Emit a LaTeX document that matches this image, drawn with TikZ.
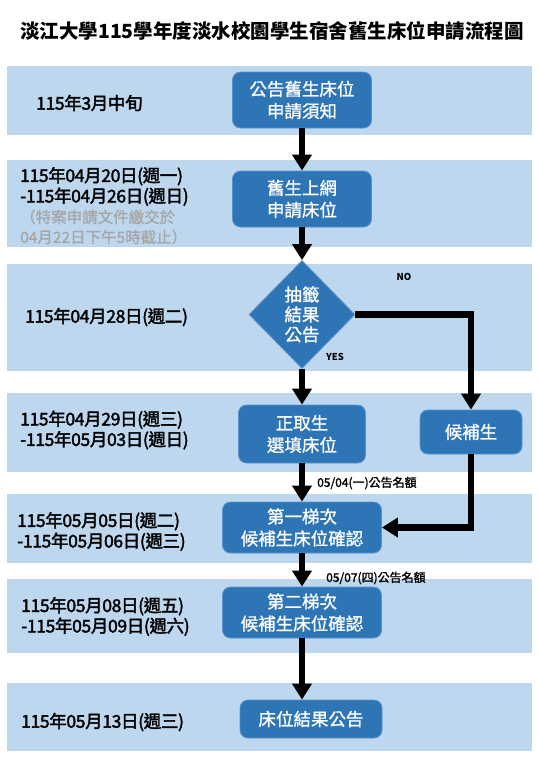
\documentclass[tikz,border=0pt]{standalone}
\usepackage{fontspec}
\setmainfont{Noto Sans CJK TC}
\newfontfamily\medf[FakeBold=2.2,LetterSpace=-2]{Noto Sans CJK TC}
\newfontfamily\smallf[FakeBold=1.5]{Noto Sans CJK TC}
\newfontfamily\lightmed[FakeBold=1.0]{Noto Sans CJK TC}
\usetikzlibrary{arrows.meta,shapes.geometric}
\definecolor{bandc}{HTML}{BDD7EE}
\definecolor{boxc}{HTML}{2E75B6}
\definecolor{boxb}{HTML}{5A93CC}
\definecolor{graytxt}{HTML}{A6A6A6}
\tikzset{
  bandbox/.style={fill=bandc},
  flowbox/.style={rectangle, rounded corners=8pt, fill=boxc, draw=boxb, line width=0.8pt,
    text=white, align=center, inner sep=0pt, font=\lightmed\fontsize{17.5}{22}\selectfont},
  decbox/.style={diamond, fill=boxc, draw=boxb, line width=0.8pt, text=white, align=center,
    inner sep=0pt, minimum width=106pt, minimum height=108pt, font=\lightmed\fontsize{17.5}{20}\selectfont},
  datetxt/.style={anchor=west, align=left, inner sep=0pt, font=\medf\fontsize{17.5}{20.5}\selectfont},
  smalltxt/.style={anchor=west, inner sep=0pt, font=\smallf\fontsize{12}{13}\selectfont},
  yntxt/.style={inner sep=0pt, font=\bfseries\fontsize{9.5}{11}\selectfont},
  arr/.style={line width=6.5pt, -{Triangle[width=19pt,length=16pt]}}
}
\begin{document}
\begin{tikzpicture}[x=1pt,y=-1pt]
\useasboundingbox (0,0) rectangle (540,780);
% title
\node[inner sep=0pt, font=\bfseries\fontsize{19.5}{22}\selectfont] (title) at (272,31) {淡江大學115學年度淡水校園學生宿舍舊生床位申請流程圖};
% bands
\fill[bandbox] (7,66) rectangle (532,135);
\fill[bandbox] (7,160) rectangle (532,247);
\fill[bandbox] (7,264) rectangle (532,371);
\fill[bandbox] (7,393) rectangle (532,472);
\fill[bandbox] (7,494) rectangle (532,563);
\fill[bandbox] (7,579) rectangle (532,653);
\fill[bandbox] (7,683) rectangle (532,751);
% dates
\node[datetxt] (t1) at (36,103) {115年3月中旬};
\node[datetxt] (t2) at (20,186.5) {115年04月20日(週一)\\-115年04月26日(週日)};
\node[anchor=west, align=left, inner sep=0pt, text=graytxt, font=\lightmed\fontsize{15.5}{20}\selectfont] (t2b) at (20,227) {（特案申請文件繳交於\\04月22日下午5時截止）};
\node[datetxt] (t3) at (25,317) {115年04月28日(週二)};
\node[datetxt] (t4) at (20,430) {115年04月29日(週三)\\-115年05月03日(週日)};
\node[datetxt] (t5) at (17,531.5) {115年05月05日(週二)\\-115年05月06日(週三)};
\node[datetxt] (t6) at (21,616.5) {115年05月08日(週五)\\-115年05月09日(週六)};
\node[datetxt] (t7) at (21,722) {115年05月13日(週三)};
% boxes
\node[flowbox, minimum width=139pt, minimum height=56pt] (b1) at (302,100) {公告舊生床位\\申請須知};
\node[flowbox, minimum width=139pt, minimum height=56pt] (b2) at (302,199) {舊生上網\\申請床位};
\node[decbox] (d) at (302,314.5) {抽籤\\結果\\公告};
\node[flowbox, minimum width=127pt, minimum height=58pt] (z) at (302,434) {正取生\\選填床位};
\node[flowbox, minimum width=102pt, minimum height=44pt] (h) at (471,432) {候補生};
\node[flowbox, minimum width=159pt, minimum height=51pt] (s1) at (302,527.5) {第一梯次\\候補生床位確認};
\node[flowbox, minimum width=159pt, minimum height=51pt] (s2) at (302,612.5) {第二梯次\\候補生床位確認};
\node[flowbox, minimum width=142pt, minimum height=38pt] (f) at (311,719) {床位結果公告};
% connectors
\draw[arr] (b1) -- (b2);
\draw[arr] (b2) -- (d);
\draw[arr] (d) -- (z);
\draw[arr] (d.east) -| (h.north);
\draw[arr] (z) -- (s1);
\draw[arr] (h.south) |- (s1.east);
\draw[arr] (s1) -- (s2);
\draw[arr] (s2.south) -- (s2.south |- f.north);
% labels
\node[yntxt] (no) at (404,277) {NO};
\node[yntxt] (yes) at (335,357) {YES};
\node[smalltxt] (l1) at (317,483) {05/04(一)公告名額};
\node[smalltxt] (l2) at (326,578) {05/07(四)公告名額};
\end{tikzpicture}
\end{document}
